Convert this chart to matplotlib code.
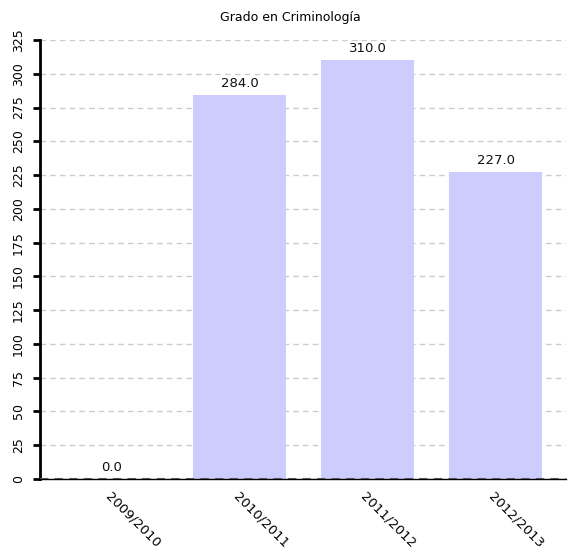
import matplotlib
matplotlib.use("Agg")
import matplotlib.pyplot as plt

categories = ["2009/2010", "2010/2011", "2011/2012", "2012/2013"]
values = [0.0, 284.0, 310.0, 227.0]
yticks = list(range(0, 326, 25))
subtitle = "Grado en Criminología"

fig = plt.figure(figsize=(5.68, 5.51), dpi=100)
ax = fig.add_axes([40/568, 72/551, 526/568, 439/551])

x = list(range(len(categories)))
ax.bar(x, values, width=93/128, color="#ccccff", zorder=2)
for xi, v in zip(x, values):
    ax.text(xi, v + 4, f"{v:.1f}", ha="center", va="bottom", fontsize=9.5, color="#111111")

ax.set_xlim(-0.56, 3.55)
ax.set_ylim(0, 325)
ax.set_yticks(yticks)
ax.set_yticklabels([str(t) for t in yticks], rotation=90, va="center", fontsize=9)
ax.set_xticks(x)
ax.set_xticklabels(categories, rotation=-45, ha="left", rotation_mode="anchor", fontsize=9.5)
ax.tick_params(axis="x", length=0, pad=8)
ax.tick_params(axis="y", length=5, width=2, pad=6)
ax.yaxis.grid(True, linestyle=(0, (4, 3)), color="#cccccc", linewidth=1, zorder=0)
ax.axhline(0, color="#555555", linestyle=(0, (4, 3)), linewidth=1.5, zorder=3)
for s in ["top", "right"]:
    ax.spines[s].set_visible(False)
ax.spines["left"].set_linewidth(2)
ax.spines["bottom"].set_linewidth(1)
ax.set_axisbelow(True)

fig.text(290/568, 1 - 17/551, subtitle, ha="center", va="center", fontsize=9)

fig.savefig("out.png", dpi=100)
